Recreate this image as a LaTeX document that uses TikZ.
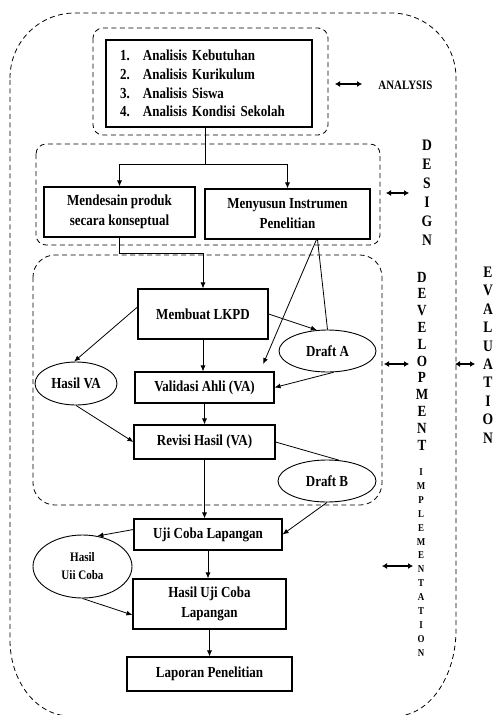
\documentclass[tikz,border=0pt]{standalone}
\usepackage{fontspec}
\setmainfont{Liberation Serif}[FakeStretch=0.85]
\usetikzlibrary{arrows.meta,shapes.geometric}
\begin{document}
\begin{tikzpicture}[x=1pt,y=-1pt,
  frame/.style={draw, dash pattern=on 5pt off 3.5pt, line width=0.8pt},
  box/.style={draw, line width=1.1pt, inner sep=0pt, align=center, font=\fontsize{15.3}{20}\selectfont\bfseries},
  oval/.style={draw, ellipse, line width=0.9pt, inner sep=0pt, align=center, font=\fontsize{15.3}{20}\selectfont\bfseries},
  arr/.style={-{Latex[length=6pt,width=5pt]}, line width=0.8pt},
  link/.style={line width=0.8pt},
  darr/.style={{Latex[length=5pt,width=6pt]}-{Latex[length=5pt,width=6pt]}, line width=1.5pt},
  vlab/.style={align=center, inner sep=0pt},
]
\clip (0,0) rectangle (495,715);
% frames
\draw[frame] (10,78) .. controls (10,42) and (39,13) .. (75,13) -- (391,13)
  .. controls (427,13) and (456,42) .. (456,78) -- (456,630)
  .. controls (456,677) and (429,716) .. (396,716) -- (70,716)
  .. controls (37,716) and (10,682) .. (10,640) -- cycle;
\draw[frame, rounded corners=10pt] (93,28) rectangle (328,135);
\draw[frame, rounded corners=10pt] (36,144) rectangle (380,245);
\draw[frame, rounded corners=22pt] (33,255) rectangle (382,505);

% boxes
\node[box, minimum width=206pt, minimum height=87pt, text width=178pt, align=left,
  font=\fontsize{15.3}{18.7}\selectfont\bfseries] (anl) at (209,83.5)
  {\makebox[23pt][l]{1.}Analisis Kebutuhan\\
   \makebox[23pt][l]{2.}Analisis Kurikulum\\
   \makebox[23pt][l]{3.}Analisis Siswa\\
   \makebox[23pt][l]{4.}Analisis Kondisi Sekolah};
\node[box, minimum width=151pt, minimum height=50pt] (mend) at (119.5,212) {Mendesain produk\\secara konseptual};
\node[box, minimum width=165pt, minimum height=50pt] (meny) at (287.5,214) {Menyusun Instrumen\\Penelitian};
\node[box, minimum width=130pt, minimum height=50pt] (lkpd) at (203,314) {Membuat LKPD};
\node[box, minimum width=139pt, minimum height=31pt] (valid) at (204.5,387.5) {Validasi Ahli (VA)};
\node[box, minimum width=141pt, minimum height=34pt] (revisi) at (204.5,442) {Revisi Hasil (VA)};
\node[box, minimum width=148pt, minimum height=31pt] (uji) at (208,534.5) {Uji Coba Lapangan};
\node[box, minimum width=153pt, minimum height=50pt] (hul) at (209.5,604) {Hasil Uji Coba\\Lapangan};
\node[box, minimum width=165pt, minimum height=34pt] (lapor) at (209.5,674) {Laporan Penelitian};

% ovals
\node[oval, minimum width=97pt, minimum height=42pt] (drafta) at (327.5,351) {Draft A};
\node[oval, minimum width=82pt, minimum height=43pt] (hasilva) at (76,383.5) {Hasil VA};
\node[oval, minimum width=98pt, minimum height=42pt] (draftb) at (327,481) {Draft B};
\node[oval, minimum width=99pt, minimum height=63pt, font=\fontsize{13}{18}\selectfont\bfseries] (hasiluji) at (82.5,566.5) {Hasil\\Uii Coba};

% labels
\node[vlab, font=\fontsize{12.8}{14}\selectfont\bfseries] (lblA) at (405.5,85) {ANALYSIS};
\node[vlab, font=\fontsize{16}{19}\selectfont\bfseries] (lblD) at (427,192.5) {D\\E\\S\\I\\G\\N};
\node[vlab, font=\fontsize{15.5}{16.8}\selectfont\bfseries] (lblDev) at (422,361) {D\\E\\V\\E\\L\\O\\P\\M\\E\\N\\T};
\node[vlab, font=\fontsize{16}{18.4}\selectfont\bfseries] (lblE) at (488,355) {E\\V\\A\\L\\U\\A\\T\\I\\O\\N};
\node[vlab, font=\fontsize{10.5}{13.9}\selectfont\bfseries] (lblI) at (421,562.5) {I\\M\\P\\L\\E\\M\\E\\N\\T\\A\\T\\I\\O\\N};

% double arrows
\coordinate (a1) at (335,84);  \coordinate (a2) at (362,84);
\coordinate (d1) at (386,193); \coordinate (d2) at (409,193);
\coordinate (v1) at (384,364); \coordinate (v2) at (409,364);
\coordinate (e1) at (455,364); \coordinate (e2) at (475,364);
\coordinate (i1) at (382,566); \coordinate (i2) at (413,566);
\draw[darr] (a1) -- (a2);
\draw[darr] (d1) -- (d2);
\draw[darr] (v1) -- (v2);
\draw[darr] (e1) -- (e2);
\draw[darr] (i1) -- (i2);

% connectors
\coordinate (split) at (205,164);
\coordinate (mj) at (203,253);
\draw[link] (split |- anl.south) -- (split);
\draw[arr] (split) -| (mend.north);
\draw[arr] (split) -| (meny.north);
\draw[arr] (mend.south) |- (mj) -- (lkpd.north);
\draw[arr] (lkpd.east) -- (drafta.117);
\draw[link] ([xshift=30pt]meny.south) -- (drafta.north);
\draw[arr, shorten >=8pt] ([xshift=29pt]meny.south) -- ([xshift=55.5pt]valid.north);
\draw[arr] (lkpd.south) -- (lkpd.south |- valid.north);
\draw[arr] ([yshift=7pt]lkpd.west) -- (hasilva.95);
\draw[arr] (drafta.-74) -- (valid.east);
\draw[arr] (valid.south) -- (valid.south |- revisi.north);
\draw[arr] (hasilva.south) -- (revisi.west);
\draw[link] (revisi.east) -- (draftb.60);
\draw[arr] (revisi.south) -- (revisi.south |- uji.north);
\draw[arr] (draftb.south) -- (uji.east);
\draw[arr] ([yshift=5pt]uji.west) -- (hasiluji.64);
\draw[arr] (uji.south) -- (uji.south |- hul.north);
\draw[arr] (hasiluji.south) -- ([yshift=-11pt]hul.west);
\draw[arr] (hul.south) -- (hul.south |- lapor.north);
\end{tikzpicture}
\end{document}
